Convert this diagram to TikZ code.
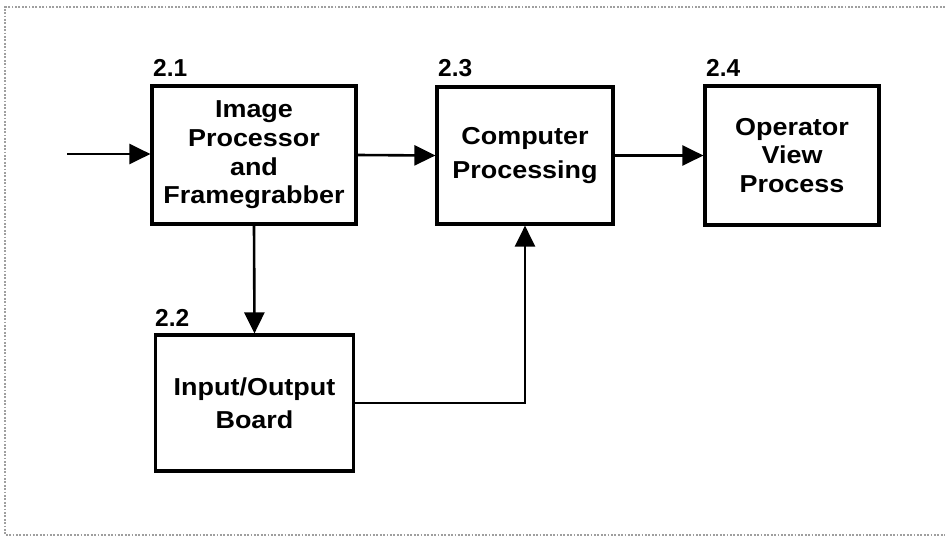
\documentclass[tikz,border=0pt]{standalone}
\usepackage{fontspec}
\setmainfont{Liberation Sans}
\newfontfamily\boxfont{Liberation Sans}[FakeStretch=1.1]
\newfontfamily\labfont{Liberation Sans}
\usetikzlibrary{arrows.meta}
\tikzset{
  blk/.style={draw, line width=3.2pt, align=center, inner sep=0pt,
    font=\boxfont\bfseries\fontsize{24.5}{28.7}\selectfont},
  blkwide/.style={blk, font=\boxfont\bfseries\fontsize{24.5}{33.5}\selectfont},
  lab/.style={anchor=base west, inner sep=0pt, font=\labfont\bfseries\fontsize{24.5}{28}\selectfont},
  arr/.style={line width=2.6pt, -{Triangle[length=21pt,width=20pt]}},
  frame/.style={line width=1.8pt, gray!75, dash pattern=on 1.8pt off 1.6pt}
}
\begin{document}
\begin{tikzpicture}[x=1pt,y=-1pt]
\useasboundingbox (0,0) rectangle (945,536);
\draw[frame] (945,7) -- (5,7) -- (5,535) -- (945,535);

\node[blk, minimum width=204pt, minimum height=138pt] (b21) at (254,155) {Image\\Processor\\and\\Framegrabber};
\node[blkwide, minimum width=176pt, minimum height=137pt] (b23) at (525,155.5) {\raisebox{4pt}{Computer}\\\raisebox{4pt}{Processing}};
\node[blk, minimum width=174pt, minimum height=139pt] (b24) at (792,155.5) {Operator\\View\\Process};
\node[blkwide, minimum width=198pt, minimum height=136pt] (b22) at (254.5,403) {Input/Output\\Board};

\node[lab] (l21) at (153,76) {2.1};
\node[lab] (l23) at (438,76) {2.3};
\node[lab] (l24) at (706,76) {2.4};
\node[lab] (l22) at (155,326) {2.2};

\coordinate (in) at (67,154);
\draw[arr] (in) -- (in -| b21.west);
\draw[arr] (b21.east) -- (b23.west);
\draw[arr] (b23.east) -- (b24.west);
\draw[arr] (b21.south) -- (b22.north);
\draw[arr] (b22.east) -| (b23.south);
\end{tikzpicture}
\end{document}
